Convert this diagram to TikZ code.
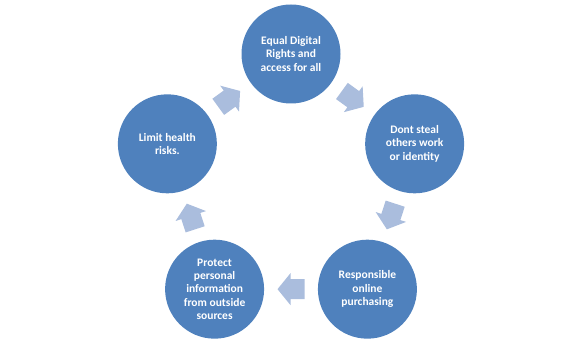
\documentclass[tikz,border=0pt]{standalone}
\usepackage{fontspec}
\setmainfont{Carlito}
\usetikzlibrary{calc}
\definecolor{discblue}{RGB}{79,129,189}
\definecolor{arrowblue}{RGB}{170,189,221}
\begin{document}
\begin{tikzpicture}[x=1pt,y=1pt,declare function={R=130;},
	disc/.style={circle,fill=discblue,minimum size=99pt,inner sep=0pt,text=white,align=center,
		font=\bfseries\fontsize{11.5}{13.3}\selectfont},
	blockarrow/.style={fill=arrowblue}]
	\useasboundingbox (0,0) rectangle (580,343);
	\coordinate (O) at (291,159);
	\foreach \n/\g/\t in {top/90/{Equal Digital\\Rights and\\access for all},
		right/18/{Dont steal\\others work\\or identity},
		brt/-54/{Responsible\\online\\purchasing},
		blt/-126/{Protect\\personal\\information\\from outside\\sources},
		left/162/{Limit health\\risks.}}
	\node[disc] (\n) at ($(O)+(\g:R)$) {\t};
	\foreach \a/\b/\g in {top/right/-36,right/brt/-108,brt/blt/180,blt/left/108,left/top/36}
	\fill[blockarrow,shift={($(\a)!0.5!(\b)$)},rotate=\g]
		(-13.5,-10)--(0.5,-10)--(0.5,-16)--(13.5,0)--(0.5,16)--(0.5,10)--(-13.5,10)--cycle;
\end{tikzpicture}
\end{document}
